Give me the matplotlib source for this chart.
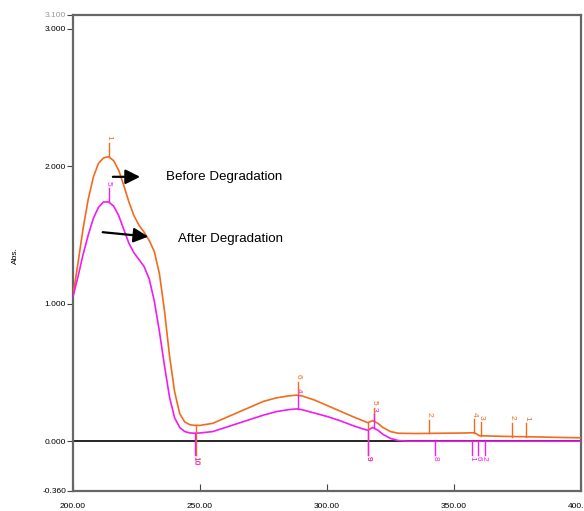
import numpy as np
import matplotlib.pyplot as plt

plt.rcParams['font.family'] = ['Liberation Sans', 'DejaVu Sans']

# UV spectrum, wavelength (nm) vs absorbance
wl_before = [200, 202, 204, 206, 208, 210, 212, 214, 216, 218, 220, 222, 224, 226,
             228, 230, 232, 234, 236, 238, 240, 242, 244, 246, 248, 250, 255, 260,
             265, 270, 275, 280, 285, 288, 290, 295, 300, 305, 310, 314, 316, 318,
             320, 322, 325, 328, 335, 345, 355, 358, 360, 370, 380, 390, 400]
abs_before = [1.06, 1.30, 1.55, 1.76, 1.92, 2.02, 2.06, 2.07, 2.04, 1.97, 1.86, 1.74,
              1.64, 1.57, 1.52, 1.46, 1.38, 1.22, 0.95, 0.62, 0.36, 0.20, 0.14, 0.12,
              0.115, 0.115, 0.13, 0.17, 0.21, 0.25, 0.29, 0.315, 0.33, 0.335, 0.33,
              0.30, 0.26, 0.22, 0.18, 0.15, 0.135, 0.15, 0.13, 0.10, 0.07, 0.058,
              0.056, 0.058, 0.06, 0.062, 0.04, 0.035, 0.032, 0.028, 0.025]

wl_after = [200, 202, 204, 206, 208, 210, 212, 214, 216, 218, 220, 222, 224, 226,
            228, 230, 232, 234, 236, 238, 240, 242, 244, 246, 248, 250, 255, 260,
            265, 270, 275, 280, 285, 288, 290, 295, 300, 305, 310, 314, 316, 318,
            320, 322, 325, 328, 332, 400]
abs_after = [1.05, 1.20, 1.36, 1.50, 1.62, 1.70, 1.74, 1.74, 1.71, 1.64, 1.54, 1.44,
             1.37, 1.32, 1.27, 1.18, 1.02, 0.80, 0.55, 0.32, 0.17, 0.10, 0.07, 0.06,
             0.058, 0.06, 0.07, 0.10, 0.13, 0.16, 0.19, 0.215, 0.23, 0.235, 0.23,
             0.205, 0.18, 0.15, 0.115, 0.09, 0.08, 0.10, 0.08, 0.05, 0.02, 0.005,
             0.0, 0.0]

# peak / valley picks: wavelength, label, direction (+1 above, -1 below)
picks_before = [(214, '1', 1), (248.5, '10', -1), (288.5, '6', 1), (316, '9', -1),
                (318.5, '5', 1), (340, '2', 1), (358, '4', 1), (360.5, '3', 1),
                (373, '2', 1), (378.5, '1', 1)]
picks_after = [(214, '5', 1), (248, '10', -1), (288.5, '4', 1), (316, '9', -1),
               (318.5, '3', 1), (342.5, '8', -1), (357, '1', -1), (359.5, '6', -1),
               (362, '2', -1)]

x_ticks = [200, 250, 300, 350, 400]
y_ticks = [-0.36, 0.0, 1.0, 2.0, 3.0, 3.1]

ORANGE = '#f26b1d'
MAGENTA = '#f01cf0'

fig = plt.figure(figsize=(5.84, 5.11), dpi=100)
ax = fig.add_axes([0.125, 0.0397, 0.87, 0.931])

ax.axhline(0, color='black', lw=1.2, zorder=1)
ax.plot(wl_before, abs_before, color=ORANGE, lw=1.2, zorder=3)
ax.plot(wl_after, abs_after, color=MAGENTA, lw=1.2, zorder=3)


def draw_picks(wl, ab, picks, color):
    for x, lab, d in picks:
        y = np.interp(x, wl, ab)
        if d > 0:
            ax.plot([x, x], [y, y + 0.1], color=color, lw=1.0, zorder=4)
            ax.text(x, y + 0.12, lab, color=color, fontsize=6, rotation=-90,
                    ha='center', va='bottom')
        else:
            ax.plot([x, x], [y, -0.1], color=color, lw=1.0, zorder=4)
            ax.text(x, -0.11, lab, color=color, fontsize=6, rotation=-90,
                    ha='center', va='top')


draw_picks(wl_before, abs_before, picks_before, ORANGE)
draw_picks(wl_after, abs_after, picks_after, MAGENTA)

# arrows pointing at each curve
ax.annotate('', xy=(227.5, 1.923), xytext=(214.6, 1.923),
            arrowprops=dict(arrowstyle='-|>', color='black', lw=1.6, mutation_scale=22))
ax.text(236.6, 1.923, 'Before Degradation', fontsize=9.6, va='center', ha='left')
ax.annotate('', xy=(230.7, 1.486), xytext=(210.6, 1.522),
            arrowprops=dict(arrowstyle='-|>', color='black', lw=1.6, mutation_scale=22))
ax.text(241.3, 1.471, 'After Degradation', fontsize=9.6, va='center', ha='left')

ax.set_xlim(200, 400)
ax.set_ylim(-0.36, 3.1)
ax.set_xticks(x_ticks)
ax.set_xticklabels([f'{v:.2f}' for v in x_ticks])
ax.set_yticks(y_ticks)
ax.set_yticklabels([f'{v:.3f}' for v in y_ticks])
ax.get_yticklabels()[-1].set_color('#999999')
ax.tick_params(axis='x', direction='in', length=5, labelsize=6, pad=9, color='#444444')
ax.tick_params(axis='y', direction='out', length=4, labelsize=6, pad=1, color='#444444')
for s in ax.spines.values():
    s.set_color('#666666')
    s.set_linewidth(1.6)

fig.text(0.026, 0.50, 'Abs.', rotation=90, fontsize=6, ha='center', va='center')

fig.savefig('out.png', dpi=100)
